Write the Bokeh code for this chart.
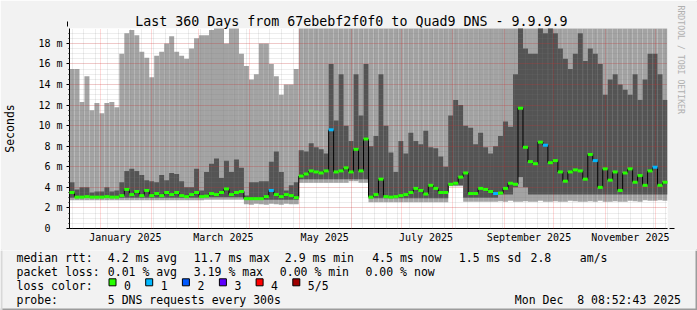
import math
from datetime import datetime, timedelta

from bokeh.plotting import figure
from bokeh.layouts import column
from bokeh.models import (Range1d, FixedTicker, Title, Arrow, NormalHead, VeeHead,
                          ColumnDataSource)
from bokeh.core.properties import value
from bokeh.embed import file_html
from bokeh.resources import INLINE

# ------------------------------------------------------------------ time frame
graph_end = datetime(2025, 12, 8, 8, 52, 43)
graph_days = 360
graph_start = graph_end - timedelta(days=graph_days)
bucket_days = 3  # each consolidated smoke column covers 3 days

# ------------------------------------------------------------------ data (ms)
# light smoke (outer pings): bottom and top
smoke_lo = [
    2.75, 2.75, 2.75, 2.75, 2.75, 2.75, 2.75, 2.75, 2.75, 2.75,
    2.75, 2.75, 2.75, 2.75, 2.75, 2.75, 2.75, 2.75, 2.75, 2.75,
    2.75, 2.75, 2.75, 2.75, 2.75, 2.75, 2.75, 2.8, 2.8, 2.8,
    2.8, 2.8, 2.8, 2.8, 2.8, 2.35, 2.3, 2.4, 2.35, 2.3,
    2.4, 2.35, 2.3, 2.4, 2.35, 2.35, 4.45, 4.45, 4.45, 4.45,
    4.45, 4.45, 4.45, 4.45, 4.45, 4.45, 4.6, 4.6, 4.45, 4.45,
    2.55, 2.55, 2.55, 2.55, 2.55, 2.55, 2.55, 2.55, 2.55, 2.55,
    2.55, 2.55, 2.55, 2.55, 2.55, 2.55, 4.1, 4.1, 4.1, 2.6,
    2.6, 2.6, 2.6, 2.6, 2.6, 2.6, 2.65, 2.6, 2.7, 2.6,
    2.6, 2.65, 2.6, 2.6, 2.7, 2.6, 2.6, 2.65, 2.6, 2.6,
    2.7, 2.65, 2.6, 2.6, 2.65, 2.6, 2.7, 2.6, 2.6, 2.65,
    2.6, 2.6, 2.7, 2.65, 2.6, 2.75, 2.7, 2.7, 2.75, 2.7,
]
smoke_hi = [
    15.5, 15.5, 12.3, 14.8, 11.5, 12.2, 11.2, 12.2, 12.3, 11.8,
    17.0, 19.0, 19.3, 18.8, 17.2, 16.6, 14.7, 16.8, 17.2, 18.0,
    18.7, 17.2, 16.8, 16.5, 17.5, 18.5, 18.8, 18.8, 19.3, 20.0,
    20.0, 18.0, 20.0, 20.0, 17.0, 15.8, 14.5, 15.0, 18.0, 18.0,
    16.0, 14.8, 13.0, 14.0, 14.0, 15.5, 20.0, 20.0, 20.0, 20.0,
    20.0, 20.0, 20.0, 20.0, 20.0, 20.0, 20.0, 20.0, 20.0, 20.0,
    20.0, 20.0, 20.0, 20.0, 20.0, 20.0, 20.0, 20.0, 20.0, 20.0,
    20.0, 20.0, 20.0, 20.0, 20.0, 20.0, 20.0, 20.0, 20.0, 20.0,
    20.0, 20.0, 20.0, 20.0, 20.0, 20.0, 20.0, 20.0, 20.0, 20.0,
    20.0, 20.0, 20.0, 20.0, 20.0, 20.0, 20.0, 20.0, 20.0, 20.0,
    20.0, 20.0, 20.0, 20.0, 20.0, 20.0, 20.0, 20.0, 20.0, 20.0,
    20.0, 20.0, 20.0, 20.0, 20.0, 20.0, 20.0, 20.0, 20.0, 20.0,
]
# dark smoke (inner pings): bottom and top
core_lo = [
    3.0, 3.0, 3.0, 3.0, 3.0, 3.0, 3.0, 3.0, 3.0, 3.0,
    3.0, 3.0, 3.0, 3.0, 3.0, 3.0, 3.0, 3.0, 3.0, 3.0,
    3.0, 3.0, 3.0, 3.0, 3.0, 3.0, 3.0, 3.05, 3.05, 3.05,
    3.05, 3.05, 3.05, 3.05, 3.05, 2.8, 2.8, 2.8, 2.8, 2.8,
    2.8, 2.8, 2.8, 2.8, 2.8, 2.8, 4.8, 4.8, 4.8, 4.8,
    4.8, 4.8, 4.8, 4.8, 4.8, 4.8, 4.8, 4.8, 4.8, 4.8,
    2.95, 2.95, 2.95, 2.95, 2.95, 2.95, 2.95, 2.95, 2.95, 2.95,
    2.95, 2.95, 2.95, 2.95, 2.95, 2.95, 4.2, 4.2, 4.2, 3.0,
    3.0, 3.0, 3.0, 3.0, 3.0, 3.0, 3.3, 3.3, 3.3, 4.0,
    5.0, 4.0, 3.3, 3.3, 3.3, 3.3, 3.3, 3.3, 3.3, 3.3,
    3.3, 3.3, 3.3, 3.3, 3.3, 3.3, 3.3, 3.3, 3.3, 3.3,
    3.3, 3.3, 3.3, 3.3, 3.3, 3.3, 3.3, 3.3, 3.3, 3.3,
]
core_hi = [
    4.5, 3.8, 4.0, 4.0, 3.5, 3.6, 3.6, 4.0, 3.6, 3.7,
    4.5, 5.6, 5.8, 5.6, 5.2, 4.7, 4.6, 4.5, 5.2, 4.7,
    5.4, 5.3, 4.6, 4.0, 4.0, 5.8, 3.7, 5.5, 6.3, 6.8,
    4.9, 6.6, 5.5, 6.7, 5.9, 3.2, 4.5, 4.5, 4.6, 4.6,
    6.5, 7.5, 5.5, 3.7, 4.2, 4.5, 7.6, 7.5, 8.3, 7.9,
    7.7, 7.3, 16.0, 10.5, 15.0, 10.0, 8.5, 15.0, 11.0, 16.0,
    8.0, 9.0, 15.0, 10.0, 7.4, 5.5, 8.5, 7.3, 9.3, 8.5,
    8.2, 9.5, 7.9, 7.8, 7.0, 6.0, 11.0, 12.5, 12.0, 10.0,
    9.8, 8.2, 9.3, 7.9, 7.3, 8.0, 9.0, 10.4, 9.9, 15.0,
    20.0, 17.5, 17.0, 17.0, 20.0, 19.0, 20.0, 19.0, 17.5, 16.5,
    15.5, 17.0, 19.0, 16.3, 17.5, 17.0, 16.0, 13.0, 14.5, 15.0,
    14.0, 13.5, 13.0, 15.0, 12.5, 14.5, 17.0, 17.0, 15.0, 12.5,
]
# median rtt per column and number of lost pings
median = [
    3.5, 3.05, 3.05, 3.1, 3.05, 3.05, 3.05, 3.1, 3.05, 3.05,
    3.2, 3.8, 3.3, 3.6, 3.2, 3.7, 3.2, 3.4, 3.2, 3.5,
    3.3, 3.5, 3.2, 3.1, 3.3, 3.5, 3.1, 3.15, 3.4, 3.3,
    3.5, 3.85, 3.3, 3.5, 3.6, 2.9, 2.9, 2.9, 2.9, 3.1,
    3.7, 3.3, 3.1, 3.3, 3.2, 3.0, 5.1, 5.3, 5.6, 5.5,
    5.4, 5.6, 9.6, 5.5, 5.6, 5.9, 5.5, 7.7, 5.6, 8.7,
    3.05, 3.3, 4.8, 3.1, 3.05, 3.1, 3.2, 3.3, 3.5, 3.9,
    3.7, 3.35, 4.2, 3.9, 3.5, 3.5, 4.3, 4.4, 5.0, 5.4,
    3.4, 3.4, 3.9, 3.8, 3.6, 3.4, 3.45, 3.9, 4.4, 4.3,
    11.7, 7.9, 6.5, 6.3, 8.4, 8.1, 6.4, 6.6, 5.5, 4.6,
    5.5, 5.7, 5.6, 4.8, 7.2, 6.6, 4.0, 5.8, 4.7, 5.5,
    3.7, 5.4, 5.8, 4.5, 5.15, 4.2, 5.6, 5.96, 4.2, 4.5,
]
loss = [
    0, 0, 0, 0, 0, 0, 0, 0, 0, 0,
    0, 0, 0, 0, 0, 0, 0, 0, 0, 0,
    0, 0, 0, 0, 0, 0, 0, 0, 0, 0,
    0, 0, 0, 0, 0, 0, 0, 0, 0, 0,
    1, 0, 0, 0, 0, 0, 0, 0, 0, 0,
    0, 0, 1, 0, 0, 0, 0, 0, 0, 0,
    0, 0, 0, 0, 0, 0, 0, 0, 0, 0,
    0, 0, 0, 0, 0, 0, 0, 0, 0, 0,
    0, 0, 0, 0, 0, 1, 0, 0, 0, 0,
    0, 0, 0, 0, 0, 1, 0, 0, 0, 0,
    0, 0, 0, 0, 0, 1, 0, 0, 0, 0,
    0, 0, 0, 0, 0, 0, 0, 1, 0, 0,
]

loss_colors = ["#26ff00", "#00b8ff", "#0059ff", "#5e00ff", "#ff0000", "#a00000"]
loss_names = ["0", "1", "2", "3", "4", "5/5"]

title_text = "Last 360 Days from 67ebebf2f0f0 to Quad9 DNS - 9.9.9.9"
y_axis_title = "Seconds"
y_major = [0, 2, 4, 6, 8, 10, 12, 14, 16, 18]
y_labels = ["0\u00a0\u00a0", "2 m", "4 m", "6 m", "8 m", "10 m", "12 m",
            "14 m", "16 m", "18 m"]
x_label_months = [(2025, 1), (2025, 3), (2025, 5), (2025, 7), (2025, 9), (2025, 11)]
x_label_names = ["January 2025", "March 2025", "May 2025", "July 2025",
                 "September 2025", "November 2025"]

legend_row1 = ["median rtt:", "4.2 ms avg", "11.7 ms max", "2.9 ms min",
               "4.5 ms now", "1.5 ms sd", "2.8", "am/s"]
legend_row2 = ["packet loss:", "0.01 % avg", "3.19 % max", "0.00 % min",
               "0.00 % now"]
legend_row3 = "loss color:"
probe_text = ["probe:", "5 DNS requests every 300s"]
stamp_text = "Mon Dec\u00a0 8 08:52:43 2025"
watermark = "RRDTOOL / TOBI OETIKER"


def day_pos(dt):
    return (dt - graph_start).total_seconds() / 86400.0


FONT = "DejaVu Sans Mono"
BG = "#f2f2f2"
EDGE_LIGHT = "#d8d8d8"
EDGE_DARK = "#9c9c9c"

n = len(median)
left = [i * bucket_days for i in range(n)]
right = [(i + 1) * bucket_days for i in range(n)]
src = ColumnDataSource(dict(left=left, right=right, smoke_lo=smoke_lo,
                            smoke_hi=smoke_hi, core_lo=core_lo, core_hi=core_hi,
                            median=median,
                            color=[loss_colors[v] for v in loss]))
conn = ColumnDataSource(dict(x=left[1:], y0=median[:-1], y1=median[1:]))

# ================================================================ main graph
p = figure(width=697, height=250, x_range=Range1d(0, graph_days),
           y_range=Range1d(0, 19.45), output_backend="svg",
           toolbar_location=None, min_border_left=67, min_border_right=30,
           min_border_top=28, min_border_bottom=22)
p.border_fill_color = BG
p.background_fill_color = "white"
p.outline_line_color = None

p.title.text = title_text
p.title.text_font = FONT
p.title.text_font_size = "13.3px"
p.title.text_font_style = "normal"
p.title.text_color = "black"
p.title.align = "left"
p.title.offset = 65.7
p.title.standoff = 0

# smoke
p.quad(left="left", right="right", bottom="smoke_lo", top="smoke_hi",
       source=src, fill_color="#a3a3a3", line_color=None)
p.quad(left="left", right="right", bottom="core_lo", top="core_hi",
       source=src, fill_color="#545454", line_color=None)

# median
r1 = p.segment(x0="x", y0="y0", x1="x", y1="y1", source=conn,
               line_color="#000000", line_width=1)
r2 = p.segment(x0="left", y0="median", x1="right", y1="median", source=src,
               line_color="color", line_width=3)
r1.level = "overlay"
r2.level = "overlay"

# grid
month_starts = [day_pos(datetime(2025, m, 1)) for m in range(1, 13)]
sundays = []
d = datetime(2024, 12, 15)
while d < graph_end:
    sundays.append(day_pos(d))
    d += timedelta(days=7)
p.xgrid.ticker = FixedTicker(ticks=month_starts, minor_ticks=sundays)
p.ygrid.ticker = FixedTicker(ticks=y_major[1:],
                             minor_ticks=[k * 0.5 for k in range(1, 39)])
for g in (p.xgrid, p.ygrid):
    g.grid_line_color = "#ff0000"
    g.grid_line_alpha = 0.3
    g.grid_line_dash = "1 1"
    g.minor_grid_line_color = "#7a7a7a"
    g.minor_grid_line_alpha = 0.28
    g.minor_grid_line_dash = "1 1"
    g.level = "annotation"

# axes
label_pos = [round(day_pos(datetime(y, m, 1) + timedelta(days=15)), 3)
             for (y, m) in x_label_months]
p.xaxis.ticker = FixedTicker(ticks=label_pos)
p.xaxis.major_label_overrides = {k: v for k, v in zip(label_pos, x_label_names)}
p.xaxis.major_tick_in = 0
p.xaxis.major_tick_out = 0
p.xaxis.minor_tick_in = 0
p.xaxis.minor_tick_out = 0
p.xaxis.major_label_standoff = 3

p.yaxis.ticker = FixedTicker(ticks=y_major,
                             minor_ticks=[k * 0.5 for k in range(0, 39)])
p.yaxis.major_label_overrides = {k: v for k, v in zip(y_major, y_labels)}
p.yaxis.major_tick_in = 0
p.yaxis.major_tick_out = 3
p.yaxis.minor_tick_in = 0
p.yaxis.minor_tick_out = 1
p.yaxis.major_label_standoff = 4
p.yaxis.axis_label = y_axis_title
p.yaxis.axis_label_text_font = FONT
p.yaxis.axis_label_text_font_size = "11.5px"
p.yaxis.axis_label_text_font_style = "normal"
p.yaxis.axis_label_text_color = "black"
p.yaxis.axis_label_standoff = 18

for ax in (p.xaxis, p.yaxis):
    ax.axis_line_color = "black"
    ax.major_tick_line_color = "black"
    ax.minor_tick_line_color = "black"
    ax.major_label_text_font = FONT
    ax.major_label_text_font_size = "10px"
    ax.major_label_text_color = "black"

# watermark on the right edge
p.add_layout(Title(text=watermark, align="left", offset=-23, text_font=FONT,
                   text_font_size="8.2px", text_font_style="normal",
                   text_color="#b0b0b0", standoff=17), "right")

# axis arrows
for xs, ys, xe, ye in [(67, 28, 67, 21), (667, 228, 674, 228)]:
    p.add_layout(Arrow(end=NormalHead(size=5, fill_color="#a01010",
                                      line_color="#a01010"),
                       x_start=xs, y_start=ys, x_end=xe, y_end=ye,
                       start_units="canvas", end_units="canvas",
                       line_color="black", line_width=1))
# image frame edges (top / left light, right dark)
for xs, ys, xe, ye, c in [(0, 1, 697, 1, EDGE_LIGHT), (1, 0, 1, 250, EDGE_LIGHT),
                          (696, 0, 696, 250, EDGE_DARK)]:
    p.add_layout(Arrow(end=VeeHead(size=1, line_alpha=0, fill_alpha=0),
                       x_start=xs, y_start=ys, x_end=xe, y_end=ye,
                       start_units="canvas", end_units="canvas",
                       line_color=c, line_width=2))

# ================================================================ legend block
FH = 60
f = figure(width=697, height=FH, x_range=Range1d(0, 697), y_range=Range1d(FH, 0),
           output_backend="svg", toolbar_location=None, x_axis_type=None,
           y_axis_type=None, min_border=0, min_border_left=0, min_border_right=0,
           min_border_top=0, min_border_bottom=0)
f.outline_line_color = None
f.background_fill_color = BG
f.border_fill_color = BG
for fig in (p, f):
    if "frame_align" in fig.properties():
        fig.frame_align = False

row1_x = [16, 107.3, 193.3, 284.3, 371.7, 458.3, 530, 579.3]
row2_x = [16, 107.3, 193.3, 279.3, 365]
box_x = [108.5, 145.2, 181.9, 218.9, 255.6, 292.3]
base = [7.3, 21.3, 35.3, 49.6]

tx = row1_x + row2_x + [16] + [b + 15 for b in box_x] + [16, 107.3]
ty = ([base[0]] * len(row1_x) + [base[1]] * len(row2_x) + [base[2]] +
      [base[2]] * len(box_x) + [base[3], base[3]])
tt = legend_row1 + legend_row2 + [legend_row3] + loss_names + probe_text
f.text(x=tx, y=ty, text=tt, text_font=value(FONT), text_font_size=value("11.5px"),
       text_align="left", text_baseline="alphabetic", text_color="black")
f.text(x=[680.5], y=[base[3]], text=[stamp_text], text_font=value(FONT),
       text_font_size=value("11.5px"), text_align="right",
       text_baseline="alphabetic", text_color="black")
f.quad(left=box_x, right=[b + 7 for b in box_x], top=[28.3] * 6,
       bottom=[35.3] * 6, fill_color=loss_colors, line_color="black",
       line_width=1)
# frame edges of the image
f.quad(left=[0, 0, 695], right=[697, 2, 697], top=[58, 0, 0],
       bottom=[60, 60, 60], fill_color=[EDGE_DARK, EDGE_LIGHT, EDGE_DARK],
       line_color=None)

layout = column(p, f, spacing=0)
open("out.html", "w").write(file_html(layout, INLINE))
